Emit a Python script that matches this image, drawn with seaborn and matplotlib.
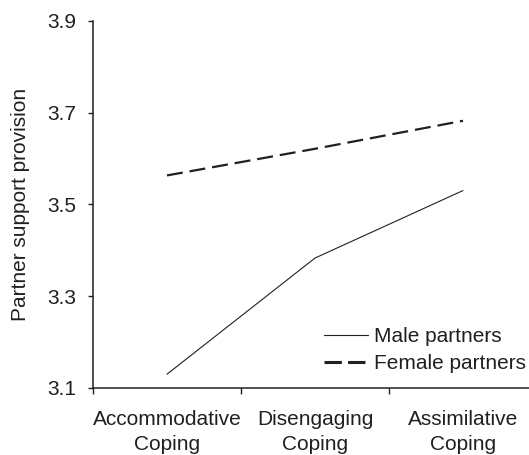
import pandas as pd
import numpy as np
import matplotlib
matplotlib.use("Agg")
import matplotlib.pyplot as plt
import seaborn as sns

# values
categories = ["Accommodative\nCoping", "Disengaging\nCoping", "Assimilative\nCoping"]
male_partners = [3.13, 3.383, 3.53]
female_partners = [3.563, 3.621, 3.682]
y_ticks = [3.1, 3.3, 3.5, 3.7, 3.9]

sns.set_style("white")
plt.rcParams['font.family'] = ['Liberation Sans', 'DejaVu Sans']
plt.rcParams['lines.scale_dashes'] = False
ink = "#231f20"

df = pd.DataFrame({
    "coping": list(range(len(categories))) * 2,
    "support": male_partners + female_partners,
    "group": ["Male partners"] * 3 + ["Female partners"] * 3,
})

fig = plt.figure(figsize=(5.29, 4.55), dpi=100)
ax = fig.add_axes([0.1758, 0.1473, 1 - 0.1758, 0.9545 - 0.1473])

sns.lineplot(data=df[df.group == "Male partners"], x="coping", y="support",
             color=ink, linewidth=0.8, label="Male partners", ax=ax)
sns.lineplot(data=df[df.group == "Female partners"], x="coping", y="support",
             color=ink, linewidth=1.6, label="Female partners", ax=ax)
ax.lines[1].set_dashes((11.5, 5))

ax.set_xlim(-0.5, 2.446)
ax.set_ylim(3.1, 3.9)
ax.set_yticks(y_ticks)
ax.set_yticklabels([f"{v:.1f}" for v in y_ticks])

# boundary ticks as major, category labels on minor ticks
ax.set_xticks([-0.5, 0.5, 1.5])
ax.set_xticklabels([])
ax.set_xticks(range(len(categories)), minor=True)
ax.set_xticklabels(categories, minor=True, fontsize=15, color=ink, linespacing=1.4)
ax.tick_params(axis="x", which="major", direction="out", length=4.5, width=1, color=ink, bottom=True)
ax.tick_params(axis="x", which="minor", length=0, pad=15.5, bottom=True)
ax.tick_params(axis="y", direction="out", length=3.8, width=1, color=ink, pad=8.5,
               labelsize=15, labelcolor=ink, left=True)

for side in ["top", "right"]:
    ax.spines[side].set_visible(False)
for side in ["left", "bottom"]:
    ax.spines[side].set_color(ink)
    ax.spines[side].set_linewidth(1.1)

ax.set_xlabel("")
ax.set_ylabel("Partner support provision", fontsize=15, color=ink)
ax.yaxis.set_label_coords(-0.144, 0.5)

leg = ax.legend(loc="upper left", bbox_to_anchor=(0.530, 0.166), frameon=False,
                fontsize=15, borderpad=0, borderaxespad=0, handlelength=2.1,
                handletextpad=0.3, labelspacing=0.38)
for t in leg.get_texts():
    t.set_color(ink)
leg.get_lines()[1].set_linewidth(2.2)
leg.get_lines()[1].set_dashes((12.5, 4.5))

fig.savefig("out.png", dpi=100)
